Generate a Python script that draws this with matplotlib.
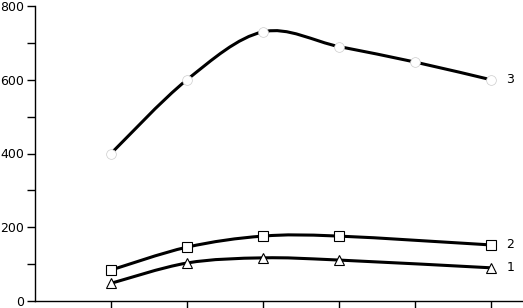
import matplotlib
matplotlib.use("Agg")
import matplotlib.pyplot as plt
import numpy as np
from matplotlib.path import Path
from matplotlib.patches import PathPatch

# data
x3 = [1, 2, 3, 4, 5, 6]
y3 = [400, 600, 730, 690, 648, 600]
x2 = [1, 2, 3, 4, 6]
y2 = [84, 146, 176, 176, 152]
x1 = [1, 2, 3, 4, 6]
y1 = [48, 103, 117, 111, 90]
series_labels = ["3", "2", "1"]
y_ticks = [0, 200, 400, 600, 800]
x_ticks = [1, 2, 3, 4, 5, 6]


def smooth_path(x, y):
    # Catmull-Rom through the points, as cubic Bezier segments
    p = np.column_stack([x, y]).astype(float)
    pts = np.vstack([p[0], p, p[-1]])
    verts = [p[0]]
    codes = [Path.MOVETO]
    for i in range(1, len(pts) - 2):
        p0, p1, p2, p3 = pts[i - 1], pts[i], pts[i + 1], pts[i + 2]
        c1 = p1 + (p2 - p0) / 6.0
        c2 = p2 - (p3 - p1) / 6.0
        verts += [c1, c2, p2]
        codes += [Path.CURVE4] * 3
    return Path(verts, codes)


fig = plt.figure(figsize=(5.23, 3.08), dpi=100)
ax = fig.add_axes([35 / 523, 7 / 308, 1 - 35 / 523, 295 / 308])

for xs, ys in [(x3, y3), (x2, y2), (x1, y1)]:
    ax.add_patch(PathPatch(smooth_path(xs, ys), facecolor="none",
                           edgecolor="black", lw=2.2, zorder=2))

ax.plot(x3, y3, ls="none", marker="o", ms=7, mfc="white", mec="0.8",
        mew=0.5, zorder=3)
ax.plot(x2, y2, ls="none", marker="s", ms=6.5, mfc="white", mec="black",
        mew=0.8, zorder=3)
ax.plot(x1, y1, ls="none", marker="^", ms=7.5, mfc="white", mec="black",
        mew=0.8, zorder=3)

ax.text(6.2, 600, series_labels[0], fontsize=9, va="center", ha="left")
ax.text(6.2, 152, series_labels[1], fontsize=9, va="center", ha="left")
ax.text(6.2, 90, series_labels[2], fontsize=9, va="center", ha="left")

ax.set_xlim(0, 488 / 76)
ax.set_ylim(0, 800)
ax.set_yticks(y_ticks)
ax.set_yticks([100, 300, 500, 700], minor=True)
ax.set_xticks(x_ticks)
ax.set_xticklabels([])
ax.tick_params(axis="y", which="both", direction="out", length=6,
               width=1, labelsize=9, pad=2)
ax.tick_params(axis="x", direction="out", length=7, width=1)
ax.spines["top"].set_visible(False)
ax.spines["right"].set_visible(False)
for s in ["left", "bottom"]:
    ax.spines[s].set_linewidth(1)

fig.savefig("out.png", dpi=100)
